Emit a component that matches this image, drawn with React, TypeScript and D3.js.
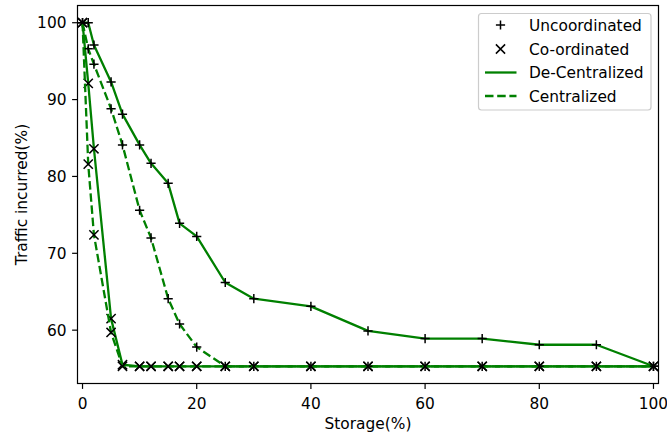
import React from 'react';
import * as d3 from 'd3';

// storage levels (%) sampled in the experiment
const storage = [0, 1, 2, 5, 7, 10, 12, 15, 17, 20, 25, 30, 40, 50, 60, 70, 80, 90, 100];

// traffic incurred (%) per scheme
const uncoordDecentral = [100, 100, 97.1, 92.3, 88.1, 84.1, 81.7, 79.1, 73.9, 72.2, 66.2, 64.1, 63.1, 59.9, 58.9, 58.9, 58.1, 58.1, 55.3];
const uncoordCentral = [100, 96.6, 94.6, 88.8, 84.1, 75.6, 72.0, 64.1, 60.8, 57.8, 55.3, 55.3, 55.3, 55.3, 55.3, 55.3, 55.3, 55.3, 55.3];
const coordDecentral = [100, 92.1, 83.6, 61.5, 55.5, 55.3, 55.3, 55.3, 55.3, 55.3, 55.3, 55.3, 55.3, 55.3, 55.3, 55.3, 55.3, 55.3, 55.3];
const coordCentral = [100, 81.6, 72.4, 59.7, 55.3, 55.3, 55.3, 55.3, 55.3, 55.3, 55.3, 55.3, 55.3, 55.3, 55.3, 55.3, 55.3, 55.3, 55.3];

const xTicks = [0, 20, 40, 60, 80, 100];
const yTicks = [60, 70, 80, 90, 100];
const legendLabels = ['Uncoordinated', 'Co-ordinated', 'De-Centralized', 'Centralized'];

const width = 667;
const height = 438;
const left = 77.5, right = 658.5, top = 5.5, bottom = 383.5;
const font = 'DejaVu Sans, sans-serif';
const fs = 15.4;
const green = '#008000';
const lw = 2.3;
const dash = '8.5,3.7';
const ms = 4.6;

const x = d3.scaleLinear().domain([-0.88, 100.88]).range([left, right]);
const y = d3.scaleLinear().domain([53.06, 102.24]).range([bottom, top]);

const Plus = ({ cx, cy }: { cx: number; cy: number }) => (
  <path d={`M${cx - ms},${cy}H${cx + ms}M${cx},${cy - ms}V${cy + ms}`} stroke="#000" strokeWidth={1.5} fill="none" />
);
const Cross = ({ cx, cy }: { cx: number; cy: number }) => (
  <path d={`M${cx - ms},${cy - ms}L${cx + ms},${cy + ms}M${cx - ms},${cy + ms}L${cx + ms},${cy - ms}`} stroke="#000" strokeWidth={1.5} fill="none" />
);

const series = [
  { values: uncoordDecentral, dashed: false, marker: 'plus' },
  { values: coordDecentral, dashed: false, marker: 'cross' },
  { values: uncoordCentral, dashed: true, marker: 'plus' },
  { values: coordCentral, dashed: true, marker: 'cross' },
];

export default function App() {
  const line = d3.line<number>().x((_, i) => x(storage[i])).y(d => y(d));

  const legX = 478.5, legY = 13.5, legW = 172.5, legH = 96.5;
  const rowY = [25, 49, 72.5, 96];

  return (
    <svg width={width} height={height} style={{ position: 'absolute', left: 0, top: 0, background: '#fff' }} fontFamily={font}>
      <rect width={width} height={height} fill="#fff" />
      <defs>
        <clipPath id="plotArea">
          <rect x={left} y={top} width={right - left} height={bottom - top} />
        </clipPath>
      </defs>

      <g clipPath="url(#plotArea)">
        {series.map((s, k) => (
          <g key={k}>
            <path d={line(s.values) || ''} fill="none" stroke={green} strokeWidth={lw}
              strokeDasharray={s.dashed ? dash : undefined} strokeLinejoin="round" />
            {s.values.map((v, i) =>
              s.marker === 'plus'
                ? <Plus key={i} cx={x(storage[i])} cy={y(v)} />
                : <Cross key={i} cx={x(storage[i])} cy={y(v)} />
            )}
          </g>
        ))}
      </g>

      {/* spines */}
      <rect x={left} y={top} width={right - left} height={bottom - top} fill="none" stroke="#000" strokeWidth={1.2} />

      {/* x axis */}
      {xTicks.map(t => (
        <g key={t}>
          <line x1={x(t)} x2={x(t)} y1={bottom} y2={bottom + 5.4} stroke="#000" strokeWidth={1.2} />
          <text x={x(t)} y={408.5} textAnchor="middle" fontSize={fs}>{t}</text>
        </g>
      ))}
      <text x={(left + right) / 2} y={428.5} textAnchor="middle" fontSize={fs}>Storage(%)</text>

      {/* y axis */}
      {yTicks.map(t => (
        <g key={t}>
          <line x1={left - 5.4} x2={left} y1={y(t)} y2={y(t)} stroke="#000" strokeWidth={1.2} />
          <text x={66.5} y={y(t) + 5.5} textAnchor="end" fontSize={fs}>{t}</text>
        </g>
      ))}
      <text transform={`translate(26.5,${(top + bottom) / 2}) rotate(-90)`} textAnchor="middle" fontSize={fs}>Traffic incurred(%)</text>

      {/* legend */}
      <rect x={legX} y={legY} width={legW} height={legH} rx={3} fill="#fff" fillOpacity={0.8} stroke="#cccccc" strokeWidth={1.2} />
      <Plus cx={500.5} cy={rowY[0]} />
      <Cross cx={500.5} cy={rowY[1]} />
      <line x1={485} x2={516.5} y1={rowY[2]} y2={rowY[2]} stroke={green} strokeWidth={lw} />
      <line x1={485} x2={516.5} y1={rowY[3]} y2={rowY[3]} stroke={green} strokeWidth={lw} strokeDasharray={dash} />
      {legendLabels.map((l, i) => (
        <text key={l} x={529} y={rowY[i] + 5.5} fontSize={fs}>{l}</text>
      ))}
    </svg>
  );
}
